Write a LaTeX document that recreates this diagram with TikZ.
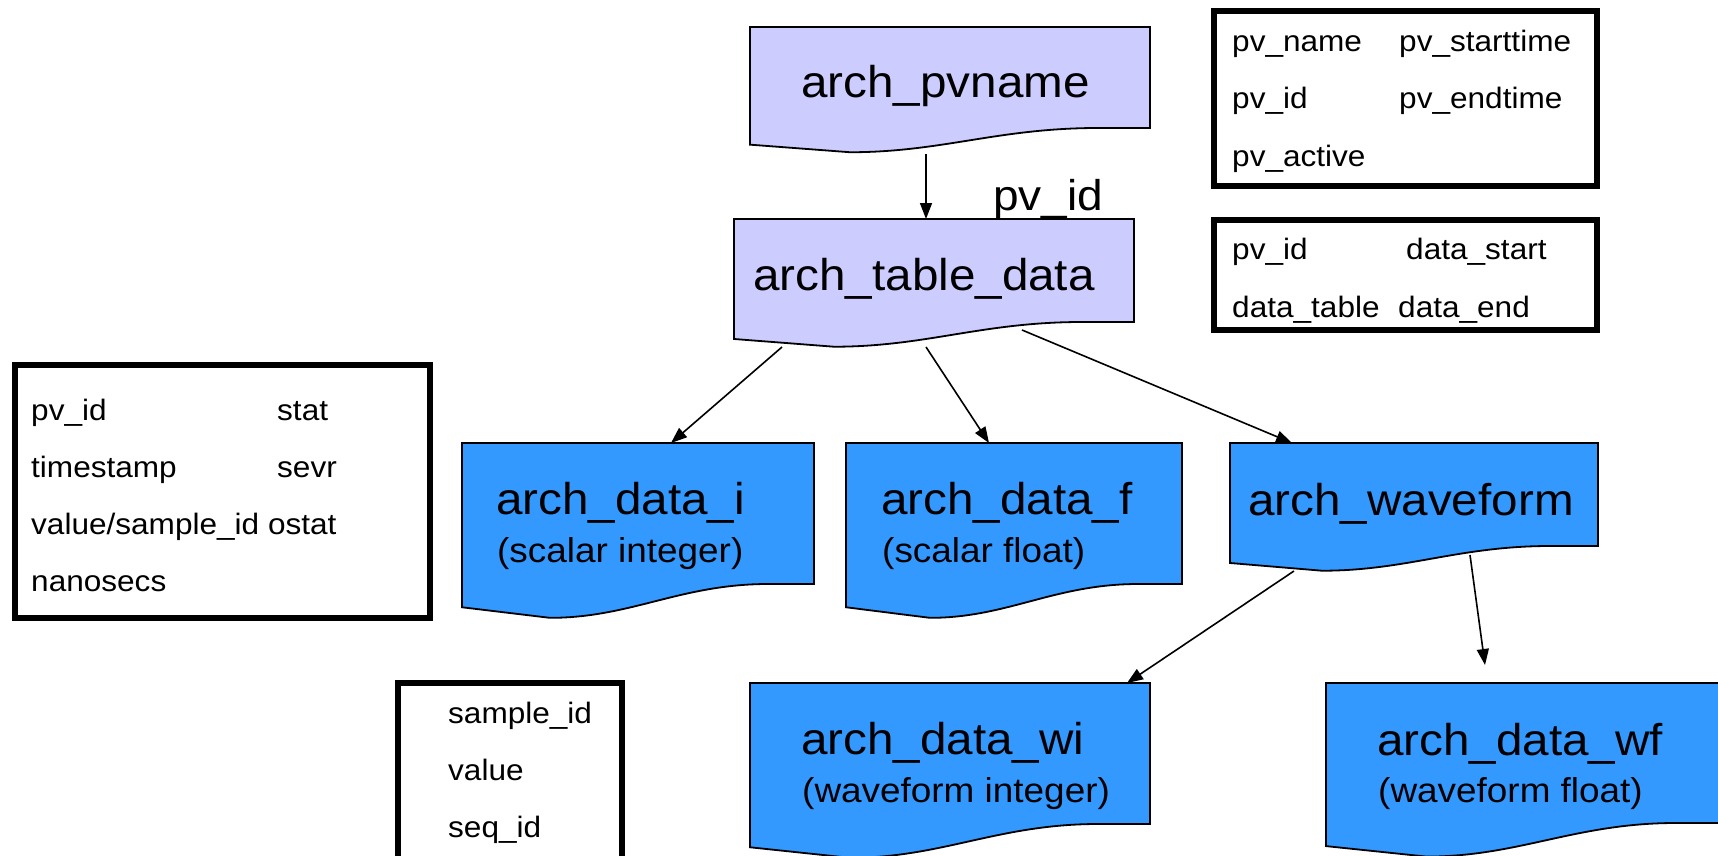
\documentclass[tikz,border=0pt]{standalone}
\usepackage{fontspec}
\newfontfamily\diagfont{Liberation Sans}[FakeStretch=1.07]
\usetikzlibrary{arrows.meta,calc}

\definecolor{lavender}{RGB}{204,204,255}
\definecolor{tableblue}{RGB}{51,153,255}

\tikzset{
    docbox/.style={inner sep=0pt, outer sep=0pt, anchor=north west},
    docline/.style={draw=black, line width=1.8pt, line join=miter},
    fieldbox/.style={draw, line width=6.5pt, inner sep=0pt, outer sep=0pt, anchor=north west},
    title/.style={font=\diagfont\fontsize{44.5}{50}\selectfont, anchor=base west, inner sep=0pt},
    subtitle/.style={font=\diagfont\fontsize{34.5}{40}\selectfont, anchor=base west, inner sep=0pt},
    field/.style={font=\diagfont\fontsize{29.5}{34}\selectfont, anchor=base west, inner sep=0pt},
    link/.style={-{Triangle[length=16pt,width=12pt]}, line width=1.6pt},
}

% outline of a "document" node: flat top, wavy bottom edge
\newcommand\docoutline[2]{%
    \draw[docline, fill=#2]
        let \p1 = (#1.north west), \p2 = (#1.south east),
            \n1 = {\x2-\x1}, \n2 = {\y1-\y2} in
        (\p1) -- (\x2,\y1) -- (\p2)
        -- (\x1+0.87*\n1,\y2)
        .. controls (\x1+0.62*\n1,\y2) and (\x1+0.48*\n1,\y2-0.24*\n2) ..
        (\x1+0.25*\n1,\y2-0.24*\n2)
        -- (\x1,\y2-0.165*\n2) -- cycle;}

\begin{document}
\begin{tikzpicture}[x=1pt, y=-1pt]

    \useasboundingbox (0,0) rectangle (1718,856);
    \fill[white] (0,0) rectangle (1718,856);
    \clip (0,0) rectangle (1718,856);

    % --- table nodes ---
    \node[docbox, minimum width=400, minimum height=101] (pvname) at (750,27) {};
    \node[docbox, minimum width=400, minimum height=103] (tbl)    at (734,219) {};
    \node[docbox, minimum width=352, minimum height=141] (di)     at (462,443) {};
    \node[docbox, minimum width=336, minimum height=141] (df)     at (846,443) {};
    \node[docbox, minimum width=368, minimum height=103] (wave)   at (1230,443) {};
    \node[docbox, minimum width=400, minimum height=141] (dwi)    at (750,683) {};
    \node[docbox, minimum width=402, minimum height=140] (dwf)    at (1326,683) {};

    \docoutline{pvname}{lavender}
    \docoutline{tbl}{lavender}
    \docoutline{di}{tableblue}
    \docoutline{df}{tableblue}
    \docoutline{wave}{tableblue}
    \docoutline{dwi}{tableblue}
    \docoutline{dwf}{tableblue}

    % --- table names ---
    \node[title] at (801,98)   {arch\_pvname};
    \node[title] at (753,290)  {arch\_table\_data};
    \node[title] at (496,514)  {arch\_data\_i};
    \node[title] at (881,514)  {arch\_data\_f};
    \node[title] at (1248,515) {arch\_waveform};
    \node[title] at (801,754)  {arch\_data\_wi};
    \node[title] at (1377,755) {arch\_data\_wf};

    \node[subtitle] at (497,562)  {(scalar integer)};
    \node[subtitle] at (882,562)  {(scalar float)};
    \node[subtitle] at (802,802)  {(waveform integer)};
    \node[subtitle] at (1378,802) {(waveform float)};

    \node[title, font=\diagfont\fontsize{43}{48}\selectfont] (key) at (993,210) {pv\_id};

    % --- column lists ---
    \node[fieldbox, minimum width=383, minimum height=175] (pvfields)     at (1214,11) {};
    \node[fieldbox, minimum width=383, minimum height=110] (tablefields)  at (1214,220) {};
    \node[fieldbox, minimum width=415, minimum height=253] (datafields)   at (15,365) {};
    \node[fieldbox, minimum width=224, minimum height=260] (samplefields) at (398,683) {};

    \node[field] at (1232,52)  {pv\_name};
    \node[field] at (1399,52)  {pv\_starttime};
    \node[field] at (1232,109) {pv\_id};
    \node[field] at (1399,109) {pv\_endtime};
    \node[field] at (1232,166) {pv\_active};

    \node[field] at (1232,259) {pv\_id};
    \node[field] at (1406,259) {data\_start};
    \node[field] at (1232,317) {data\_table};
    \node[field] at (1398,317) {data\_end};

    \node[field] at (31,420)  {pv\_id};
    \node[field] at (277,420) {stat};
    \node[field] at (31,477)  {timestamp};
    \node[field] at (277,477) {sevr};
    \node[field] at (31,534)  {value/sample\_id ostat};
    \node[field] at (31,591)  {nanosecs};

    \node[field] at (448,723) {sample\_id};
    \node[field] at (448,780) {value};
    \node[field] at (448,837) {seq\_id};

    % --- links ---
    \coordinate (wfend) at ($(dwf.north west)+(159,-18)$);

    \draw[link] ($(pvname.south west)+(176,26)$) -- ($(tbl.north west)+(192,0)$);
    \draw[link] ($(tbl.south west)+(48,25)$)     -- ($(di.north west)+(209,0)$);
    \draw[link] ($(tbl.south west)+(192,25)$)    -- ($(df.north west)+(143,0)$);
    \draw[link] ($(tbl.south west)+(288,8)$)     -- ($(wave.north west)+(62,0)$);
    \draw[link] ($(wave.south west)+(64,25)$)    -- ($(dwi.north west)+(377,0)$);
    \draw[link] ($(wave.south west)+(240,9)$)    -- (wfend);

\end{tikzpicture}
\end{document}
